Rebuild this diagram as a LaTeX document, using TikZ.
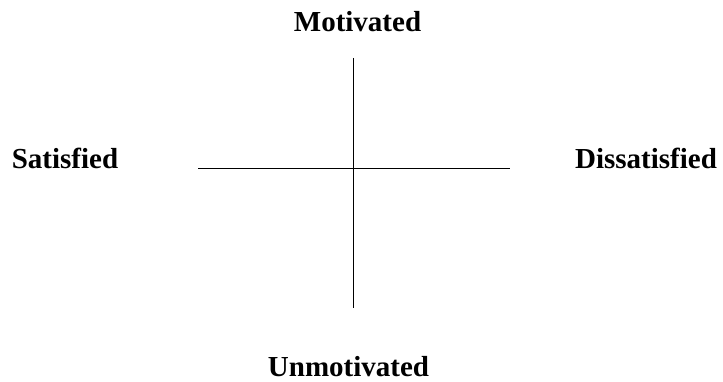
\documentclass[tikz,border=0pt]{standalone}
\usepackage{fontspec}
\setmainfont{Liberation Serif}
\usepackage{tikz}
\usetikzlibrary{positioning}
\tikzset{
  lbl/.style={font=\fontsize{29}{35}\selectfont\bfseries, inner sep=0pt, anchor=base},
  axis/.style={line width=1.3pt},
}
\begin{document}
\begin{tikzpicture}[x=1pt,y=-1pt]
\useasboundingbox (0,0) rectangle (723,382);
% axes
\coordinate (top) at (353.5,58);
\coordinate (bot) at (353.5,308);
\coordinate (lft) at (198,168.3);
\coordinate (rgt) at (510,168.3);
\draw[axis] (top)--(bot);
\draw[axis] (lft)--(rgt);
% labels
\node[lbl] (mot) at (357.5,32) {Motivated};
\node[lbl] (unm) at (348.5,376) {Unmotivated};
\node[lbl] (sat) at (65,169) {Satisfied};
\node[lbl] (dis) at (646,169) {Dissatisfied};
\end{tikzpicture}
\end{document}
